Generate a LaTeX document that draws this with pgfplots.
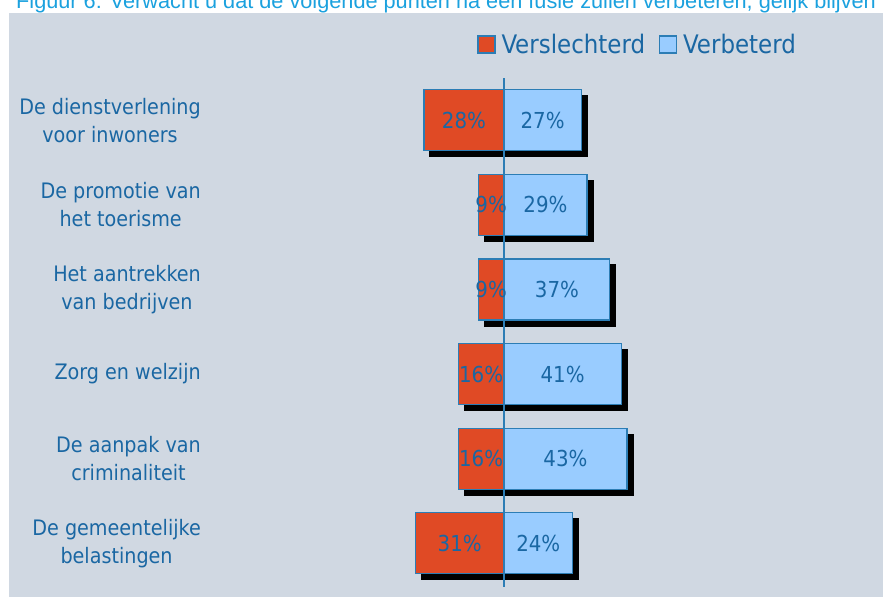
\documentclass[border=0pt]{standalone}
\usepackage{fontspec}
\setmainfont{DejaVuSansCondensed.ttf}
\newfontfamily\titlefont{Liberation Sans}
\usepackage{pgfplots}
\pgfplotsset{compat=1.18}

\definecolor{panel}{HTML}{D0D8E2}
\definecolor{txt}{HTML}{1A67A3}
\definecolor{edge}{HTML}{2C7DB5}
\definecolor{worse}{HTML}{E04A25}
\definecolor{better}{HTML}{99CCFF}
\definecolor{titleblue}{HTML}{1BA1DE}

\pgfplotsset{
  base/.style={
    scale only axis, width=257.4pt, height=507.6pt,
    xmin=-40, xmax=50, ymin=-0.5, ymax=5.5, y dir=reverse,
    axis line style={draw=none}, tick style={draw=none},
    xtick=\empty, clip=false, bar width=61pt,
  },
  sq legend/.style={
    legend image code/.code={\draw[##1] (0pt,-8.5pt) rectangle (17pt,8.5pt); \path (21pt,0pt);}
  },
}

\begin{document}
\begin{tikzpicture}[x=1pt,y=1pt]
\fill[panel] (9,0) rectangle (883,584.3);
\node[anchor=base west, font=\titlefont\fontsize{21.7}{24}\selectfont, text=titleblue, inner sep=0pt]
  at (16,588.5) {Figuur 6: Verwacht u dat de volgende punten na een fusie zullen verbeteren, gelijk blijven};

% shadows: same bars, shifted 6pt right and down
\begin{axis}[base, at={(395.6pt,5.4pt)}, anchor=south west, ytick=\empty]
\addplot[xbar, bar shift=0pt, fill=black, draw=black, line width=1.2pt]
  coordinates {(-28,0) (-9,1) (-9,2) (-16,3) (-16,4) (-31,5)};
\addplot[xbar, bar shift=0pt, fill=black, draw=black, line width=1.2pt]
  coordinates {(27,0) (29,1) (37,2) (41,3) (43,4) (24,5)};
\end{axis}

\begin{axis}[base, at={(389.6pt,11.4pt)}, anchor=south west,
  ytick={0,...,5},
  yticklabels={{De dienstverlening\\voor inwoners},{De promotie van\\het toerisme},
    {Het aantrekken\\van bedrijven},{Zorg en welzijn},{De aanpak van\\criminaliteit},
    {De gemeentelijke\\belastingen}},
  yticklabel style={align=center, anchor=east, inner sep=0pt, xshift=-188.6pt,
    text=txt, font=\fontsize{21.3}{28}\selectfont},
  legend style={at={(0.34,1.066)}, anchor=west, draw=none, fill=none,
    inner sep=0pt, text=txt, font=\fontsize{25.5}{28}\selectfont,
    /tikz/every even column/.append style={column sep=12pt}},
  legend columns=2,
]
\addplot[xbar, bar shift=0pt, fill=worse, draw=edge, line width=1.2pt, sq legend]
  coordinates {(-28,0) (-9,1) (-9,2) (-16,3) (-16,4) (-31,5)};
\addlegendentry{Verslechterd}
\addplot[xbar, bar shift=0pt, fill=better, draw=edge, line width=1.2pt, sq legend]
  coordinates {(27,0) (29,1) (37,2) (41,3) (43,4) (24,5)};
\addlegendentry{Verbeterd}
\addplot[edge, line width=1.5pt, mark=none, forget plot] coordinates {(0,-0.5) (0,5.52)};
\addplot[draw=none, mark=none, forget plot, nodes near coords, point meta=explicit symbolic,
  every node near coord/.style={anchor=center, text=txt, font=\fontsize{22}{26}\selectfont}]
  coordinates {(-14,0) [28\%] (-4.5,1) [9\%] (-4.5,2) [9\%] (-8,3) [16\%] (-8,4) [16\%] (-15.5,5) [31\%]
               (13.5,0) [27\%] (14.5,1) [29\%] (18.5,2) [37\%] (20.5,3) [41\%] (21.5,4) [43\%] (12,5) [24\%]};
\end{axis}
\pgfresetboundingbox
\path[use as bounding box] (0,0) rectangle (883,597);
\end{tikzpicture}
\end{document}
